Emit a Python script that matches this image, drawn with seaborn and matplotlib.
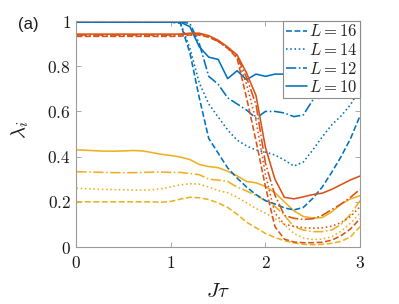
import matplotlib
matplotlib.use("Agg")
import matplotlib.pyplot as plt
import seaborn as sns

# ---------------- data ----------------
t = [0.0, 0.1, 0.2, 0.3, 0.4, 0.5, 0.6, 0.7, 0.8, 0.9, 1.0,
     1.1, 1.2, 1.3, 1.4, 1.5, 1.6, 1.7, 1.8, 1.9, 2.0,
     2.1, 2.2, 2.3, 2.4, 2.5, 2.6, 2.7, 2.8, 2.9, 3.0]

# blue family
blue_L16 = [0.995, 0.995, 0.995, 0.995, 0.995, 0.995, 0.995, 0.995, 0.995, 0.995, 0.995,
            0.99, 0.86, 0.66, 0.48, 0.415, 0.35, 0.305, 0.265, 0.232, 0.205,
            0.19, 0.173, 0.164, 0.175, 0.215, 0.265, 0.33, 0.40, 0.48, 0.58]
blue_L14 = [0.995, 0.995, 0.995, 0.995, 0.995, 0.995, 0.995, 0.995, 0.995, 0.995, 0.995,
            0.993, 0.88, 0.726, 0.633, 0.575, 0.518, 0.473, 0.447, 0.429, 0.42,
            0.407, 0.385, 0.358, 0.376, 0.429, 0.487, 0.54, 0.58, 0.63, 0.70]
blue_L12 = [0.995, 0.995, 0.995, 0.995, 0.995, 0.995, 0.995, 0.995, 0.995, 0.995, 0.995,
            0.995, 0.99, 0.90, 0.755, 0.72, 0.66, 0.633, 0.606, 0.57, 0.60,
            0.60, 0.593, 0.577, 0.584, 0.65, 0.75, 0.85, 0.90, 0.92, 0.93]
blue_L10 = [0.995, 0.995, 0.995, 0.995, 0.995, 0.995, 0.995, 0.995, 0.995, 0.995, 0.995,
            0.995, 0.975, 0.886, 0.84, 0.83, 0.745, 0.78, 0.74, 0.765, 0.755,
            0.765, 0.765, 0.77, 0.76, 0.77, 0.78, 0.78, 0.79, 0.80, 0.82]

# orange family
orange_L16 = [0.932, 0.932, 0.932, 0.932, 0.932, 0.932, 0.932, 0.932, 0.932, 0.932, 0.932,
              0.933, 0.938, 0.938, 0.928, 0.91, 0.88, 0.835, 0.66, 0.47, 0.267,
              0.09, 0.035, 0.022, 0.019, 0.019, 0.021, 0.03, 0.05, 0.08, 0.125]
orange_L14 = [0.935, 0.935, 0.935, 0.935, 0.935, 0.935, 0.935, 0.935, 0.935, 0.935, 0.935,
              0.937, 0.942, 0.942, 0.93, 0.91, 0.88, 0.84, 0.72, 0.56, 0.32,
              0.15, 0.10, 0.092, 0.085, 0.083, 0.085, 0.092, 0.108, 0.135, 0.178]
orange_L12 = [0.938, 0.938, 0.938, 0.938, 0.938, 0.938, 0.938, 0.938, 0.938, 0.938, 0.938,
              0.94, 0.943, 0.943, 0.932, 0.91, 0.88, 0.845, 0.75, 0.63, 0.37,
              0.23, 0.14, 0.127, 0.122, 0.125, 0.14, 0.165, 0.19, 0.22, 0.255]
orange_L10 = [0.942, 0.942, 0.942, 0.942, 0.942, 0.942, 0.942, 0.942, 0.942, 0.942, 0.942,
              0.942, 0.946, 0.946, 0.935, 0.915, 0.885, 0.85, 0.77, 0.67, 0.44,
              0.30, 0.22, 0.213, 0.222, 0.232, 0.238, 0.255, 0.276, 0.297, 0.314]

# yellow family
yellow_L16 = [0.2, 0.2, 0.2, 0.2, 0.2, 0.2, 0.2, 0.2, 0.2, 0.198, 0.202,
              0.212, 0.22, 0.218, 0.21, 0.195, 0.175, 0.145, 0.11, 0.085, 0.06,
              0.042, 0.028, 0.018, 0.012, 0.01, 0.012, 0.016, 0.025, 0.045, 0.09]
yellow_L14 = [0.26, 0.258, 0.256, 0.255, 0.254, 0.253, 0.252, 0.252, 0.253, 0.258, 0.266,
              0.275, 0.28, 0.278, 0.265, 0.25, 0.24, 0.22, 0.195, 0.17, 0.15,
              0.125, 0.10, 0.06, 0.04, 0.033, 0.035, 0.045, 0.07, 0.105, 0.15]
yellow_L12 = [0.333, 0.332, 0.331, 0.33, 0.329, 0.329, 0.329, 0.33, 0.331, 0.332, 0.33,
              0.33, 0.325, 0.32, 0.30, 0.296, 0.29, 0.265, 0.248, 0.228, 0.205,
              0.18, 0.14, 0.09, 0.075, 0.068, 0.068, 0.075, 0.10, 0.145, 0.205]
yellow_L10 = [0.43, 0.428, 0.426, 0.424, 0.424, 0.425, 0.427, 0.425, 0.418, 0.41, 0.405,
              0.398, 0.387, 0.365, 0.356, 0.351, 0.335, 0.315, 0.29, 0.284, 0.268,
              0.24, 0.20, 0.16, 0.135, 0.128, 0.13, 0.155, 0.19, 0.213, 0.227]

legend_labels = ["$L = 16$", "$L = 14$", "$L = 12$", "$L = 10$"]
xtick_vals = [0, 1, 2, 3]
xtick_labels = ["$0$", "$1$", "$2$", "$3$"]
ytick_vals = [0, 0.2, 0.4, 0.6, 0.8, 1.0]
ytick_labels = ["$0$", "$0.2$", "$0.4$", "$0.6$", "$0.8$", "$1$"]

# ---------------- style ----------------
sns.set_style("ticks")
plt.rcParams["mathtext.fontset"] = "cm"
plt.rcParams["font.family"] = ["Liberation Sans", "DejaVu Sans"]

BLUE, ORANGE, YELLOW = "#0072BD", "#D95319", "#EDB120"
styles = ["--", ":", "-.", "-"]
LW = 1.15

fig = plt.figure(figsize=(3.99, 3.04), dpi=100)
ax = fig.add_axes([76.4 / 399, 57 / 304, 283.6 / 399, 226 / 304])

for vals, ls in zip([yellow_L16, yellow_L14, yellow_L12, yellow_L10], styles):
    sns.lineplot(x=t, y=vals, ax=ax, color=YELLOW, linestyle=ls, linewidth=LW)

blue_handles = []
for vals, ls in zip([blue_L16, blue_L14, blue_L12, blue_L10], styles):
    sns.lineplot(x=t, y=vals, ax=ax, color=BLUE, linestyle=ls, linewidth=LW)
    blue_handles.append(ax.lines[-1])

for vals, ls in zip([orange_L16, orange_L14, orange_L12, orange_L10], styles):
    sns.lineplot(x=t, y=vals, ax=ax, color=ORANGE, linestyle=ls, linewidth=LW)

ax.set_xlim(0, 3)
ax.set_ylim(0, 1)
ax.set_xticks(xtick_vals)
ax.set_xticklabels(xtick_labels)
ax.set_yticks(ytick_vals)
ax.set_yticklabels(ytick_labels)

spine_c = "#9a9a9a"
for s in ax.spines.values():
    s.set_visible(True)
    s.set_color(spine_c)
    s.set_linewidth(0.8)
ax.tick_params(axis="both", direction="in", length=3.5, width=0.6, color=spine_c,
               top=True, right=True, labelsize=12.5, labelcolor="#1a1a1a")
ax.tick_params(axis="x", pad=6)
ax.tick_params(axis="y", pad=4)

ax.set_xlabel(r"$J\tau$", fontsize=15, color="#1a1a1a")
ax.set_ylabel(r"$\lambda_i$", fontsize=15, color="#1a1a1a")
ax.xaxis.set_label_coords(0.5, -0.155)
ax.yaxis.set_label_coords(-0.16, 0.52)

leg = ax.legend(blue_handles, legend_labels, loc="upper right", borderaxespad=0,
                fontsize=12, handlelength=1.3, handletextpad=0.1, borderpad=0.15,
                labelspacing=0.15, fancybox=False, framealpha=1, edgecolor="#8c8c8c")
leg.get_frame().set_linewidth(0.8)

fig.text(18 / 399, 1 - 25 / 304, "(a)", fontsize=12, ha="left", va="center",
         color="#1a1a1a")

fig.savefig("out.png", dpi=100)
